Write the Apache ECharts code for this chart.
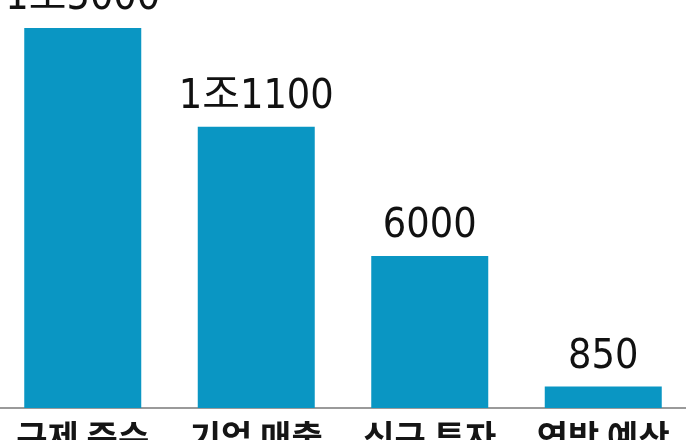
<!DOCTYPE html>
<html>
<head>
<meta charset="utf-8">
<script src="https://cdn.jsdelivr.net/npm/echarts@6/dist/echarts.min.js"></script>
<style>html,body{margin:0;padding:0;background:#fff}#c{width:686px;height:440px}</style>
</head>
<body>
<div id="c"></div>
<script>
const categories = ['규제 준수', '기업 매출', '신규 투자', '연방 예산'];
const values = [15000, 11100, 6000, 850];
const valueLabels = ['1조5000', '1조1100', '6000', '850'];

const chart = echarts.init(document.getElementById('c'), null, {renderer: 'canvas'});
chart.setOption({
  backgroundColor: '#ffffff',
  animation: false,
  grid: {left: -4, right: -4, top: 28, bottom: 32, containLabel: false, outerBoundsMode: 'none'},
  xAxis: {
    type: 'category',
    data: categories,
    axisTick: {show: false},
    axisLine: {show: true, lineStyle: {color: '#9a9a9a', width: 2}},
    axisLabel: {
      margin: 12,
      color: '#151515',
      fontSize: 34,
      lineHeight: 34,
      fontWeight: 'bold',
      fontFamily: '"Noto Sans CJK KR", sans-serif'
    }
  },
  yAxis: {type: 'value', min: 0, max: 15000, show: false, splitLine: {show: false}},
  series: [{
    type: 'bar',
    data: values,
    barWidth: 117,
    itemStyle: {color: '#0a96c3'},
    label: {
      show: true,
      position: 'top',
      distance: 9,
      formatter: p => valueLabels[p.dataIndex],
      color: '#111111',
      fontSize: 41,
      lineHeight: 41,
      fontFamily: '"Liberation Sans Narrow", "DejaVu Sans Condensed", "Noto Sans CJK KR", sans-serif'
    }
  }]
});
</script>
</body>
</html>
